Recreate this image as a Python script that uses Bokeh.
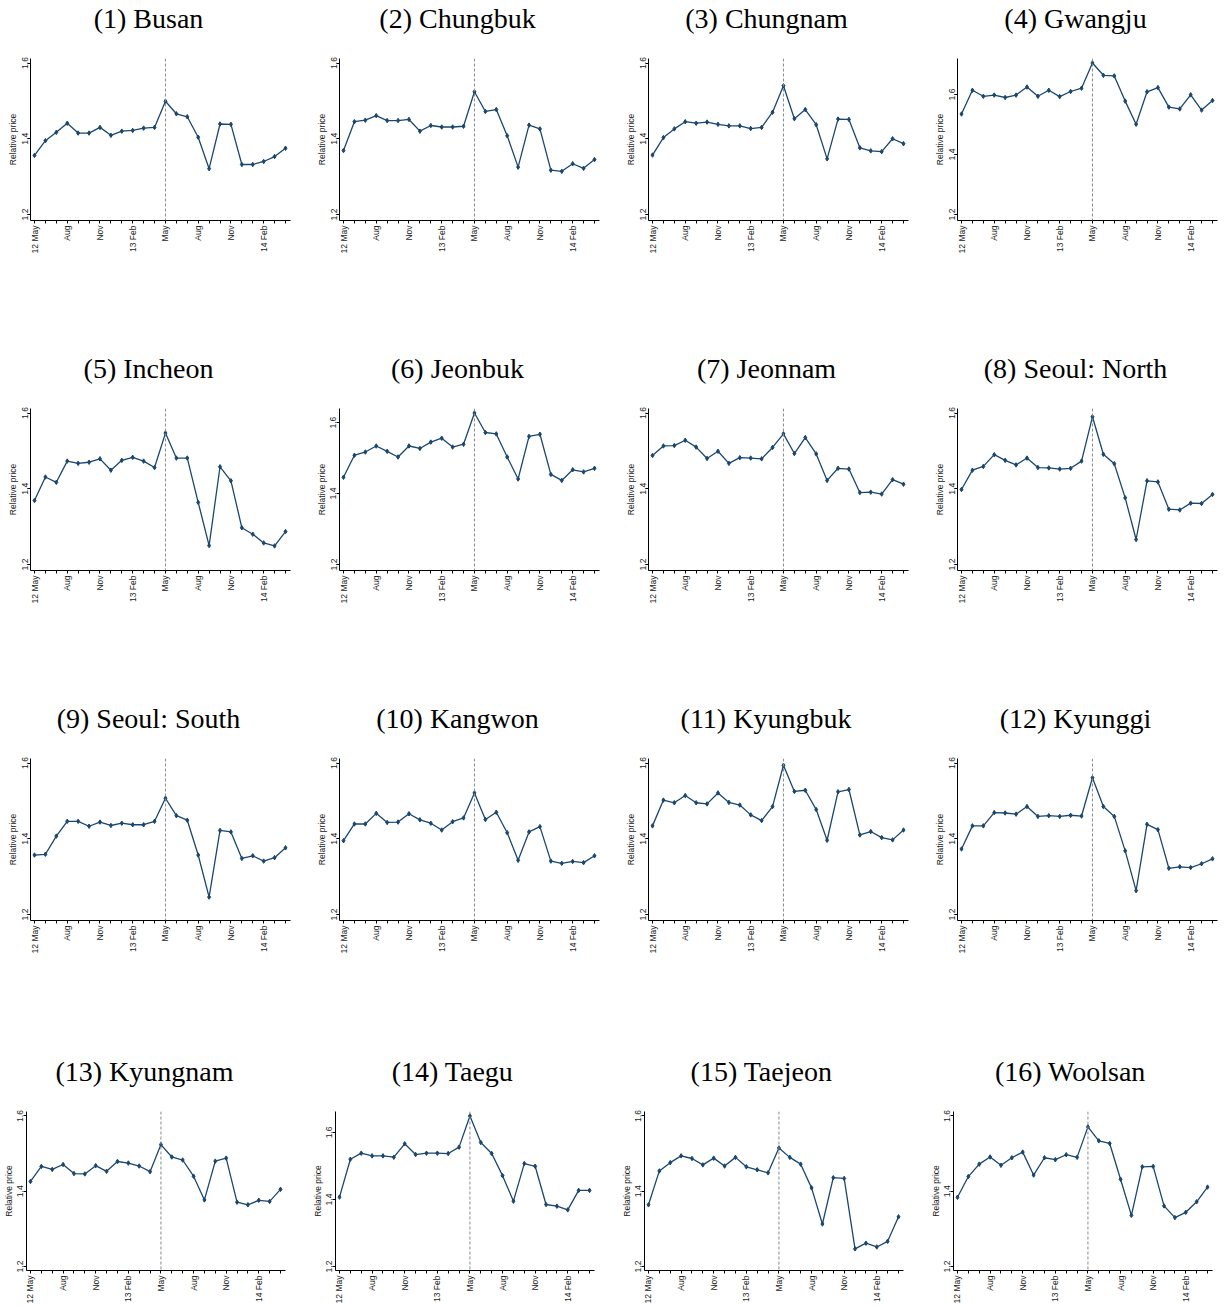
import math
from bokeh.plotting import figure
from bokeh.layouts import column, row
from bokeh.models import FixedTicker, Span, Range1d, LinearAxis
from bokeh.embed import file_html
from bokeh.resources import INLINE

# Monthly observations, May 2012 through April 2014
months = ["2012-05", "2012-06", "2012-07", "2012-08", "2012-09", "2012-10",
          "2012-11", "2012-12", "2013-01", "2013-02", "2013-03", "2013-04",
          "2013-05", "2013-06", "2013-07", "2013-08", "2013-09", "2013-10",
          "2013-11", "2013-12", "2014-01", "2014-02", "2014-03", "2014-04"]
tick_labels = {0: "12 May", 3: "Aug", 6: "Nov", 9: "13 Feb",
               12: "May", 15: "Aug", 18: "Nov", 21: "14 Feb"}
event_month = 12          # May 2013
y_ticks = [1.2, 1.4, 1.6]

titles = ["(1) Busan", "(2) Chungbuk", "(3) Chungnam", "(4) Gwangju",
          "(5) Incheon", "(6) Jeonbuk", "(7) Jeonnam", "(8) Seoul: North",
          "(9) Seoul: South", "(10) Kangwon", "(11) Kyungbuk", "(12) Kyunggi",
          "(13) Kyungnam", "(14) Taegu", "(15) Taejeon", "(16) Woolsan"]

busan = [1.356, 1.395, 1.417, 1.441, 1.415, 1.415, 1.430, 1.409, 1.420, 1.422, 1.428, 1.430,
         1.499, 1.466, 1.458, 1.404, 1.321, 1.439, 1.438, 1.332, 1.332, 1.340, 1.353, 1.375]
chungbuk = [1.369, 1.445, 1.449, 1.461, 1.448, 1.448, 1.451, 1.420, 1.435, 1.431, 1.431, 1.433,
            1.524, 1.472, 1.477, 1.408, 1.325, 1.436, 1.426, 1.317, 1.314, 1.334, 1.322, 1.345]
chungnam = [1.357, 1.403, 1.426, 1.445, 1.441, 1.444, 1.438, 1.434, 1.434, 1.427, 1.430, 1.470,
            1.540, 1.453, 1.477, 1.437, 1.347, 1.452, 1.451, 1.376, 1.368, 1.366, 1.400, 1.387]
gwangju = [1.535, 1.614, 1.594, 1.598, 1.590, 1.598, 1.625, 1.594, 1.614, 1.593, 1.610, 1.621,
           1.705, 1.664, 1.662, 1.578, 1.501, 1.609, 1.623, 1.558, 1.552, 1.599, 1.548, 1.580]
incheon = [1.369, 1.431, 1.417, 1.473, 1.467, 1.470, 1.479, 1.449, 1.475, 1.483, 1.473, 1.456,
           1.547, 1.481, 1.481, 1.364, 1.250, 1.458, 1.421, 1.297, 1.280, 1.257, 1.249, 1.287]
jeonbuk = [1.446, 1.508, 1.517, 1.534, 1.519, 1.503, 1.534, 1.527, 1.545, 1.556, 1.531, 1.539,
           1.627, 1.572, 1.568, 1.503, 1.441, 1.561, 1.567, 1.454, 1.437, 1.467, 1.461, 1.471]
jeonnam = [1.488, 1.513, 1.514, 1.528, 1.510, 1.480, 1.499, 1.467, 1.482, 1.481, 1.479, 1.509,
           1.545, 1.493, 1.535, 1.492, 1.422, 1.454, 1.452, 1.390, 1.391, 1.386, 1.424, 1.412]
seoul_north = [1.398, 1.449, 1.459, 1.490, 1.475, 1.463, 1.481, 1.456, 1.455, 1.452, 1.454, 1.473,
               1.590, 1.491, 1.466, 1.376, 1.266, 1.421, 1.418, 1.346, 1.344, 1.362, 1.361, 1.385]
seoul_south = [1.357, 1.359, 1.407, 1.446, 1.446, 1.433, 1.444, 1.435, 1.441, 1.437, 1.437, 1.446,
               1.507, 1.461, 1.449, 1.357, 1.246, 1.422, 1.418, 1.348, 1.355, 1.341, 1.350, 1.376]
kangwon = [1.395, 1.439, 1.439, 1.467, 1.443, 1.444, 1.466, 1.450, 1.441, 1.423, 1.445, 1.455,
           1.521, 1.451, 1.470, 1.416, 1.343, 1.418, 1.432, 1.341, 1.335, 1.340, 1.337, 1.355]
kyungbuk = [1.434, 1.502, 1.495, 1.514, 1.495, 1.492, 1.521, 1.496, 1.489, 1.463, 1.448, 1.485,
            1.594, 1.525, 1.528, 1.477, 1.396, 1.524, 1.530, 1.410, 1.419, 1.403, 1.397, 1.423]
kyunggi = [1.373, 1.434, 1.434, 1.469, 1.468, 1.465, 1.485, 1.459, 1.461, 1.459, 1.462, 1.460,
           1.561, 1.485, 1.459, 1.368, 1.263, 1.438, 1.424, 1.322, 1.326, 1.324, 1.334, 1.347]
kyungnam = [1.426, 1.466, 1.458, 1.471, 1.447, 1.446, 1.468, 1.453, 1.479, 1.475, 1.467, 1.452,
            1.524, 1.491, 1.483, 1.440, 1.377, 1.480, 1.488, 1.371, 1.364, 1.376, 1.373, 1.405]
taegu = [1.407, 1.520, 1.538, 1.530, 1.530, 1.526, 1.566, 1.534, 1.538, 1.538, 1.537, 1.556,
         1.649, 1.570, 1.537, 1.471, 1.395, 1.507, 1.499, 1.385, 1.380, 1.369, 1.427, 1.427]
taejeon = [1.364, 1.454, 1.476, 1.494, 1.487, 1.470, 1.488, 1.467, 1.490, 1.465, 1.457, 1.449,
           1.515, 1.490, 1.472, 1.409, 1.313, 1.436, 1.434, 1.247, 1.262, 1.252, 1.267, 1.332]
woolsan = [1.384, 1.439, 1.472, 1.491, 1.469, 1.489, 1.504, 1.443, 1.489, 1.484, 1.497, 1.490,
           1.571, 1.534, 1.527, 1.432, 1.336, 1.465, 1.466, 1.361, 1.330, 1.344, 1.372, 1.411]

series = [busan, chungbuk, chungnam, gwangju, incheon, jeonbuk, jeonnam, seoul_north,
          seoul_south, kangwon, kyungbuk, kyunggi, kyungnam, taegu, taejeon, woolsan]

NAVY = "#1a476f"
SANS = "Liberation Sans"
SERIF = "Liberation Serif"
TITLE_PX = 28
FRAME_W = 260
MONTH_PX = 10.913

# advance widths (per 1000 em) of the serif face, used to centre headings
SERIF_ADV = {"(": 333, ")": 333, " ": 250, ":": 278,
             "B": 667, "C": 667, "G": 722, "I": 333, "J": 389, "K": 722,
             "N": 722, "S": 556, "T": 611, "W": 944,
             "a": 444, "b": 500, "c": 444, "e": 444, "g": 500, "h": 500,
             "i": 278, "j": 278, "k": 500, "l": 278, "m": 778, "n": 500,
             "o": 500, "r": 333, "s": 389, "t": 278, "u": 500, "w": 722, "y": 500}


def serif_width(text, size):
    return sum(SERIF_ADV.get(ch, 500) for ch in text) * size / 1000.0


def make_panel(idx, title, ys):
    r, c = divmod(idx, 4)
    last_row = r == 3
    left = 25 if last_row else 30
    top = 61 if last_row else 58
    frame_h = 160 if last_row else 162
    h = 256 if last_row else 350
    w = 298 if c == 3 else 309
    right = w - left - FRAME_W
    bottom = h - top - frame_h

    # y range: ticks from 1.2 up to the larger of 1.6 and the series peak,
    # with a small pixel margin above and below
    lo = 1.2
    hi = max(1.6, max(ys))
    pad_top = 4.5
    pad_bot = frame_h - pad_top - 151.5
    scale = (frame_h - pad_top - pad_bot) / (hi - lo)
    y_range = Range1d(lo - pad_bot / scale, hi + pad_top / scale)
    x_range = Range1d(-4 / MONTH_PX, (len(ys) - 1) + 5 / MONTH_PX)

    p = figure(width=w, height=h, x_range=x_range, y_range=y_range,
               min_border_left=left, min_border_right=right,
               min_border_top=top, min_border_bottom=bottom,
               toolbar_location=None, tools="", output_backend="svg")
    p.outline_line_color = None
    p.xgrid.visible = False
    p.ygrid.visible = False
    p.background_fill_color = "white"
    p.border_fill_color = "white"

    # panel heading, centred over the whole panel (frame plus y-axis area)
    p.title.text = title
    p.title.align = "left"
    p.title.offset = 118 - serif_width(title, TITLE_PX) / 2
    p.title.text_font = SERIF
    p.title.text_font_size = f"{TITLE_PX}px"
    p.title.text_font_style = "normal"
    p.title.text_color = "black"
    p.title.standoff = 0
    p.title.vertical_align = "bottom"

    # blank strip between heading and plot area: an unlabeled top axis whose
    # single white tick reserves the space
    gap = LinearAxis(ticker=FixedTicker(ticks=[0]), major_tick_out=25, major_tick_in=0,
                     major_label_overrides={0: ""},
                     axis_line_color=None, major_tick_line_color="white",
                     minor_tick_line_color=None, major_label_standoff=0,
                     major_label_text_font_size="1px")
    p.add_layout(gap, "above")

    xs = list(range(len(ys)))
    p.add_layout(Span(location=event_month, dimension="height",
                      line_color="#8a8a8a", line_dash="3 2", line_width=1))
    p.line(xs, ys, line_color=NAVY, line_width=1.3)
    p.scatter(xs, ys, marker="diamond", size=4.5, color=NAVY)

    # x axis: a tick every month, labels every quarter
    xa = p.below[0]
    xa.ticker = FixedTicker(ticks=xs)
    xa.major_label_overrides = {i: tick_labels.get(i, "") for i in xs}
    xa.major_label_orientation = math.pi / 2
    xa.major_label_text_font = SANS
    xa.major_label_text_font_size = "8.5px"
    xa.major_label_text_color = "#1a1a1a"
    xa.major_label_standoff = 2
    xa.major_tick_out = 3
    xa.major_tick_in = 0
    xa.minor_tick_line_color = None
    xa.axis_line_color = "black"
    xa.major_tick_line_color = "black"

    ya = p.left[0]
    ya.ticker = FixedTicker(ticks=y_ticks)
    ya.major_label_orientation = "parallel"
    ya.major_label_text_font = SANS
    ya.major_label_text_font_size = "8.5px"
    ya.major_label_text_color = "#1a1a1a"
    ya.major_label_standoff = 0
    ya.major_tick_out = 3
    ya.major_tick_in = 0
    ya.minor_tick_line_color = None
    ya.axis_line_color = "black"
    ya.major_tick_line_color = "black"
    ya.axis_label = "Relative price"
    ya.axis_label_text_font = SANS
    ya.axis_label_text_font_size = "8.5px"
    ya.axis_label_text_font_style = "normal"
    ya.axis_label_text_color = "#1a1a1a"
    ya.axis_label_standoff = 1
    return p


panels = [make_panel(i, t, s) for i, (t, s) in enumerate(zip(titles, series))]
layout = column(*[row(*panels[k:k + 4]) for k in range(0, 16, 4)])

open("out.html", "w").write(file_html(layout, INLINE))
